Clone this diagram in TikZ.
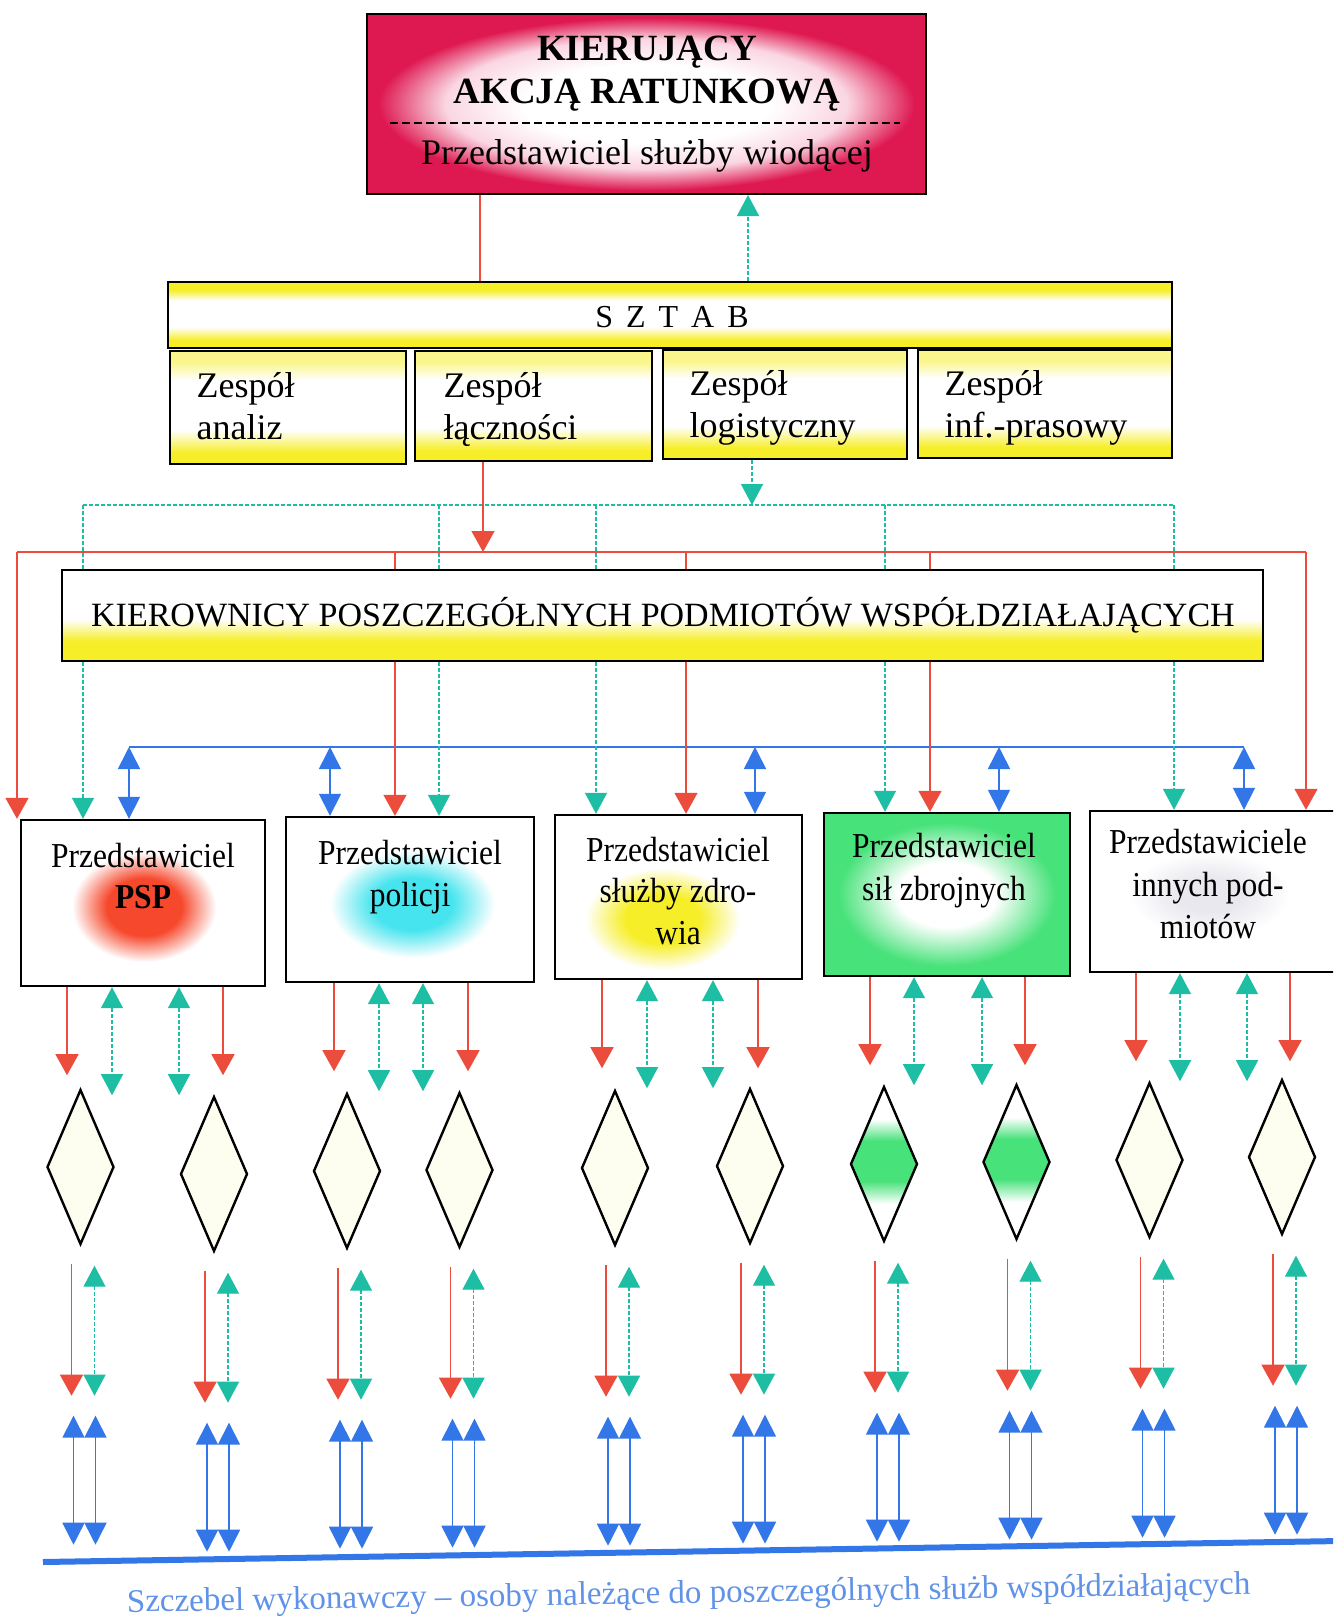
\documentclass[tikz,border=0pt]{standalone}
\usepackage{fontspec}
\setmainfont{Liberation Serif}
\newfontfamily\condf{Liberation Serif}[FakeStretch=0.9]
\usetikzlibrary{arrows.meta,shapes.geometric,calc}
\definecolor{redc}{RGB}{236,76,60}
\definecolor{tealc}{RGB}{30,190,165}
\definecolor{bluec}{RGB}{50,118,232}
\definecolor{crim}{RGB}{222,24,80}
\definecolor{crimpale}{RGB}{250,214,226}
\definecolor{yel}{RGB}{246,238,40}
\definecolor{yelpale}{RGB}{250,246,140}
\definecolor{grn}{RGB}{72,226,122}
\definecolor{pspr}{RGB}{246,72,44}
\definecolor{cyn}{RGB}{70,228,238}
\definecolor{smudgec}{RGB}{232,232,238}
\definecolor{txtblue}{RGB}{96,146,232}
\definecolor{cream}{RGB}{253,253,240}
% TikZ maps the central 50bp square (radius 25bp) of a shading onto the path
\pgfdeclareradialshading{topglow}{\pgfpoint{0bp}{0bp}}{color(0bp)=(white); color(11bp)=(white); color(18bp)=(crimpale); color(24bp)=(crim); color(50bp)=(crim)}
\pgfdeclareverticalshading{sztabsh}{100bp}{color(0bp)=(yel); color(31bp)=(yel); color(41bp)=(white); color(61bp)=(white); color(69bp)=(yel); color(100bp)=(yel)}
\pgfdeclareverticalshading{zessh}{100bp}{color(0bp)=(yel); color(30bp)=(yel); color(40bp)=(white); color(62bp)=(white); color(70bp)=(yelpale); color(100bp)=(yelpale)}
\pgfdeclareverticalshading{kiersh}{100bp}{color(0bp)=(yel); color(36bp)=(yel); color(48bp)=(white); color(100bp)=(white)}
\pgfdeclareradialshading{redglow}{\pgfpoint{0bp}{0bp}}{color(0bp)=(pspr); color(13bp)=(pspr); color(25bp)=(white); color(50bp)=(white)}
\pgfdeclareradialshading{cynglow}{\pgfpoint{0bp}{0bp}}{color(0bp)=(cyn); color(12bp)=(cyn); color(25bp)=(white); color(50bp)=(white)}
\pgfdeclareradialshading{yelglow}{\pgfpoint{0bp}{0bp}}{color(0bp)=(yel); color(12bp)=(yel); color(25bp)=(white); color(50bp)=(white)}
\pgfdeclareradialshading{smudgeglow}{\pgfpoint{0bp}{0bp}}{color(0bp)=(smudgec); color(10bp)=(smudgec); color(25bp)=(white); color(50bp)=(white)}
\pgfdeclareradialshading{grnbox}{\pgfpoint{0bp}{0bp}}{color(0bp)=(white); color(10bp)=(white); color(22bp)=(grn); color(50bp)=(grn)}
\pgfdeclareverticalshading{grndiam}{100bp}{color(0bp)=(white); color(37bp)=(white); color(44.5bp)=(grn); color(57.5bp)=(grn); color(64.5bp)=(white); color(100bp)=(white)}
\begin{document}
\begin{tikzpicture}[x=1pt,y=-1pt,
  redln/.style={draw=redc, line width=1.4pt},
  redarr/.style={redln, -{Triangle[width=23pt,length=21pt]}},
  tealln/.style={draw=tealc, line width=1.4pt, dash pattern=on 4pt off 2pt},
  tealarr/.style={tealln, -{Triangle[width=22pt,length=21pt]}},
  tealdbl/.style={tealln, {Triangle[width=22pt,length=21pt]}-{Triangle[width=22pt,length=21pt]}},
  blueln/.style={draw=bluec, line width=1.6pt},
  bluedbl/.style={blueln, {Triangle[width=22pt,length=22pt]}-{Triangle[width=22pt,length=22pt]}},
  box/.style={draw, line width=2.4pt, inner sep=0pt},
  diam/.style={diamond, draw, line width=2.4pt, inner sep=0pt, minimum width=67pt, minimum height=155pt, fill=cream},
  servtxt/.style={anchor=base, font=\condf\fontsize{35}{42}\selectfont},
  zestxt/.style={anchor=base west, font=\fontsize{36}{43}\selectfont},
  ]
\useasboundingbox (0,0) rectangle (1333,1619);
\fill[white] (0,0) rectangle (1333,1619);
\clip (0,0) rectangle (1333,1619);

% top box
\node[box, line width=2pt, shade, shading=topglow, minimum width=559pt, minimum height=180pt] (kar) at (646.5,104) {};
\node[anchor=base, font=\bfseries\fontsize{37}{44}\selectfont] (kar1) at (647,61) {KIERUJĄCY};
\node[anchor=base, font=\bfseries\fontsize{37}{44}\selectfont] (kar2) at (647,103) {AKCJĄ RATUNKOWĄ};
\coordinate (dashL) at (390,123);
\coordinate (dashR) at (900,123);
\draw[line width=2pt, dash pattern=on 8pt off 4pt] (dashL) -- (dashR);
\node[anchor=base, font=\fontsize{36}{44}\selectfont] (kar3) at (647,164) {Przedstawiciel służby wiodącej};

% sztab
\node[box, shade, shading=sztabsh, minimum width=1004pt, minimum height=66pt] (sztab) at (670,315) {};
\node[anchor=base, font=\fontsize{32}{38}\selectfont] (sztabt) at (672,327) {S\hspace{13pt}Z\hspace{13pt}T\hspace{13pt}A\hspace{13pt}B};

\node[box, shade, shading=zessh, minimum width=236pt, minimum height=113pt] (z1) at (288,407.5) {};
\node[box, shade, shading=zessh, minimum width=237pt, minimum height=110pt] (z2) at (533.5,406) {};
\node[box, shade, shading=zessh, minimum width=244pt, minimum height=109pt] (z3) at (785,404.5) {};
\node[box, shade, shading=zessh, minimum width=254pt, minimum height=108pt] (z4) at (1045,404) {};
\node[zestxt] (z1a) at (193,397) {Zespół};
\node[zestxt] (z1b) at (193,439) {analiz};
\node[zestxt] (z2a) at (440,397) {Zespół};
\node[zestxt] (z2b) at (440,439) {łączności};
\node[zestxt] (z3a) at (686,395) {Zespół};
\node[zestxt] (z3b) at (686,437) {logistyczny};
\node[zestxt] (z4a) at (941,395) {Zespół};
\node[zestxt] (z4b) at (941,437) {inf.-prasowy};

\draw[redln] (480,0 |- kar.south) -- (480,0 |- sztab.north);
\draw[tealarr] (748,0 |- sztab.north) -- (748,0 |- kar.south);

% kierownicy
\node[box, shade, shading=kiersh, minimum width=1201pt, minimum height=91pt] (kp) at (662.5,615.5) {};
\node[anchor=base, font=\fontsize{34}{40}\selectfont] (kpt) at (663,626) {KIEROWNICY POSZCZEGÓŁNYCH PODMIOTÓW WSPÓŁDZIAŁAJĄCYCH};

% service boxes
\node[box, fill=white, minimum width=244pt, minimum height=166pt] (b1) at (143,903) {};
\node[box, fill=white, minimum width=248pt, minimum height=165pt] (b2) at (410,899.5) {};
\node[box, fill=white, minimum width=247pt, minimum height=164pt] (b3) at (678.5,897) {};
\node[box, shade, shading=grnbox, minimum width=246pt, minimum height=163pt] (b4) at (947,894.5) {};
\node[box, fill=white, minimum width=246pt, minimum height=161pt] (b5) at (1213,891.5) {};
\shade[shading=redglow] (72,852) rectangle (216,962);
\shade[shading=cynglow] (330,850) rectangle (495,958);
\shade[shading=yelglow] (585,868) rectangle (740,970);
\shade[shading=smudgeglow] (1130,852) rectangle (1290,938);
\node[servtxt] (b1a) at (143,867) {Przedstawiciel};
\node[servtxt, font=\condf\bfseries\fontsize{35}{42}\selectfont] (b1b) at (143,908) {PSP};
\node[servtxt] (b2a) at (410,864) {Przedstawiciel};
\node[servtxt] (b2b) at (410,906) {policji};
\node[servtxt] (b3a) at (678,861) {Przedstawiciel};
\node[servtxt] (b3b) at (678,902) {służby zdro-};
\node[servtxt] (b3c) at (678,944) {wia};
\node[servtxt] (b4a) at (944,857) {Przedstawiciel};
\node[servtxt] (b4b) at (944,900) {sił zbrojnych};
\node[servtxt] (b5a) at (1208,853) {Przedstawiciele};
\node[servtxt] (b5b) at (1208,896) {innych pod-};
\node[servtxt] (b5c) at (1208,938) {miotów};

% distribution lines
\coordinate (tL) at (83,505);
\coordinate (tR) at (1174,505);
\coordinate (rL) at (17,552);
\coordinate (rR) at (1306,552);
\coordinate (bL) at (129,747);
\coordinate (bR) at (1244,747);
\draw[tealln] (tL) -- (tR);
\draw[tealarr] (752,0 |- z3.south) -- (752,0 |- tL);
\draw[redln] (rL) -- (rR);
\draw[redarr] (483,0 |- z2.south) -- (483,0 |- rL);
\draw[blueln] (bL) -- (bR);

\draw[redarr] (rL) -- (17,0 |- b1.north);
\draw[redarr] (rR) -- (1306,0 |- b5.north);
\foreach \xx/\bx in {395/b2,686/b3,930/b4}{
  \draw[redln] (\xx,0 |- rL) -- (\xx,0 |- kp.north);
  \draw[redarr] (\xx,0 |- kp.south) -- (\xx,0 |- \bx.north);
}
\foreach \xx/\bx in {83/b1,439/b2,596/b3,885/b4,1174/b5}{
  \draw[tealln] (\xx,0 |- tL) -- (\xx,0 |- kp.north);
  \draw[tealarr] (\xx,0 |- kp.south) -- (\xx,0 |- \bx.north);
}
\foreach \xx/\bx in {129/b1,330/b2,755/b3,999/b4,1244/b5}{
  \draw[bluedbl] (\xx,0 |- bL) -- (\xx,0 |- \bx.north);
}

% arrows below service boxes
\foreach \bx/\xx in {b1/67,b1/223,b2/334,b2/468,b3/602,b3/758,b4/870,b4/1025,b5/1136,b5/1290}{
  \draw[redarr] (\xx,0 |- \bx.south) -- ++(0,88);
}
\foreach \bx/\xx in {b1/112,b1/179,b2/379,b2/423,b3/647,b3/713,b4/914,b4/982,b5/1180,b5/1247}{
  \draw[tealdbl] (\xx,0 |- \bx.south) -- ++(0,108);
}

% diamonds
\node[diam] (d1) at (80.5,1167) {};
\node[diam] (d2) at (214,1174) {};
\node[diam] (d3) at (347,1171) {};
\node[diam] (d4) at (459.5,1170) {};
\node[diam] (d5) at (615,1168) {};
\node[diam] (d6) at (750,1166) {};
\node[diam, shade, shading=grndiam] (d7) at (884,1164) {};
\node[diam, shade, shading=grndiam] (d8) at (1016.5,1162) {};
\node[diam] (d9) at (1149.5,1160) {};
\node[diam] (d10) at (1282,1157) {};

\foreach \d in {d1,d2,d3,d4,d5,d6,d7,d8,d9,d10}{
  \draw[redarr] ([xshift=-9pt,yshift=-18pt]\d.south) -- ++(0,132);
  \draw[tealdbl] ([xshift=14pt,yshift=-20pt]\d.south) -- ++(0,130);
  \draw[bluedbl] ([xshift=-7pt,yshift=-170pt]\d.south) -- ++(0,129);
  \draw[bluedbl] ([xshift=15pt,yshift=-170pt]\d.south) -- ++(0,129);
}

% base line and caption
\coordinate (baseL) at (43,1562);
\coordinate (baseR) at (1340,1541);
\draw[bluec, line width=6pt] (baseL) -- (baseR);
\node[anchor=base west, rotate=0.9, text=txtblue, inner sep=0pt, font=\fontsize{33}{40}\selectfont] (cap) at (127,1612) {Szczebel wykonawczy – osoby należące do poszczególnych służb współdziałających};
\end{tikzpicture}
\end{document}
